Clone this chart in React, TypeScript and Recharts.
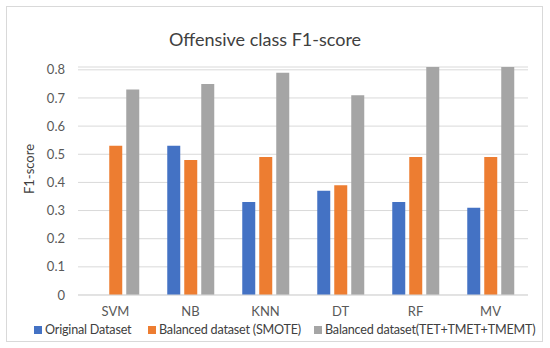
import React from 'react';
import { BarChart, Bar, XAxis, YAxis, CartesianGrid } from 'recharts';

const categories = ['SVM', 'NB', 'KNN', 'DT', 'RF', 'MV'];
const originalDataset = [0, 0.53, 0.33, 0.37, 0.33, 0.31];
const smoteDataset = [0.53, 0.48, 0.49, 0.39, 0.49, 0.49];
const tetDataset = [0.73, 0.75, 0.79, 0.71, 0.81, 0.81];
const yTicks = [0, 0.1, 0.2, 0.3, 0.4, 0.5, 0.6, 0.7, 0.8];

const seriesNames = ['Original Dataset', 'Balanced dataset (SMOTE)', 'Balanced dataset(TET+TMET+TMEMT)'];
const seriesColors = ['#4472C4', '#ED7D31', '#A5A5A5'];

const data = categories.map((c, i) => ({
  name: c,
  original: originalDataset[i],
  smote: smoteDataset[i],
  tet: tetDataset[i],
}));

const FONT = 'Lato, "Noto Sans", sans-serif';

const YLabel = () => (
  <text
    x={29}
    y={169}
    transform="rotate(-90 29 169)"
    textAnchor="middle"
    dominantBaseline="central"
    fill="#404040"
    fontSize={13}
    fontFamily={FONT}
  >
    F1-score
  </text>
);

const legendX = [34, 148, 314];

export default function App() {
  return (
    <div
      style={{
        position: 'absolute',
        left: 0,
        top: 0,
        width: 550,
        height: 348,
        background: '#fff',
        fontFamily: FONT,
      }}
    >
      <div
        style={{
          position: 'absolute',
          left: 6,
          top: 6,
          width: 537,
          height: 336,
          border: '1px solid #d9d9d9',
          boxSizing: 'border-box',
        }}
      />
      <div
        style={{
          position: 'absolute',
          left: 0,
          width: 530,
          top: 28,
          textAlign: 'center',
          fontSize: 18,
          color: '#404040',
          fontFamily: FONT,
        }}
      >
        Offensive class F1-score
      </div>
      <div style={{ position: 'absolute', left: 0, top: 0 }}>
        <BarChart
          width={550}
          height={348}
          data={data}
          margin={{ top: 67, right: 22, left: 0, bottom: 23 }}
          barCategoryGap="19%"
          barGap={4}
        >
          <CartesianGrid vertical={false} stroke="#d9d9d9" />
          <XAxis
            dataKey="name"
            height={30}
            axisLine={{ stroke: '#d9d9d9' }}
            tickLine={false}
            tick={{ fill: '#595959', fontSize: 13, fontFamily: FONT }}
            tickMargin={6}
          />
          <YAxis
            width={78}
            domain={[0, 0.8]}
            ticks={yTicks}
            axisLine={false}
            tickLine={false}
            tick={{ fill: '#595959', fontSize: 13, fontFamily: FONT }}
            tickMargin={7}
            label={<YLabel />}
          />
          <Bar dataKey="original" name={seriesNames[0]} fill={seriesColors[0]} isAnimationActive={false} />
          <Bar dataKey="smote" name={seriesNames[1]} fill={seriesColors[1]} isAnimationActive={false} />
          <Bar dataKey="tet" name={seriesNames[2]} fill={seriesColors[2]} isAnimationActive={false} />
        </BarChart>
      </div>
      {seriesNames.map((n, i) => (
        <div
          key={n}
          style={{
            position: 'absolute',
            left: legendX[i],
            top: 322,
            height: 15,
            lineHeight: '15px',
            display: 'flex',
            alignItems: 'center',
            whiteSpace: 'nowrap',
            fontSize: 12.6,
            letterSpacing: -0.2,
            color: '#404040',
            fontFamily: FONT,
          }}
        >
          <span
            style={{
              display: 'inline-block',
              width: 8,
              height: 8,
              background: seriesColors[i],
              marginRight: 3,
            }}
          />
          {n}
        </div>
      ))}
    </div>
  );
}
